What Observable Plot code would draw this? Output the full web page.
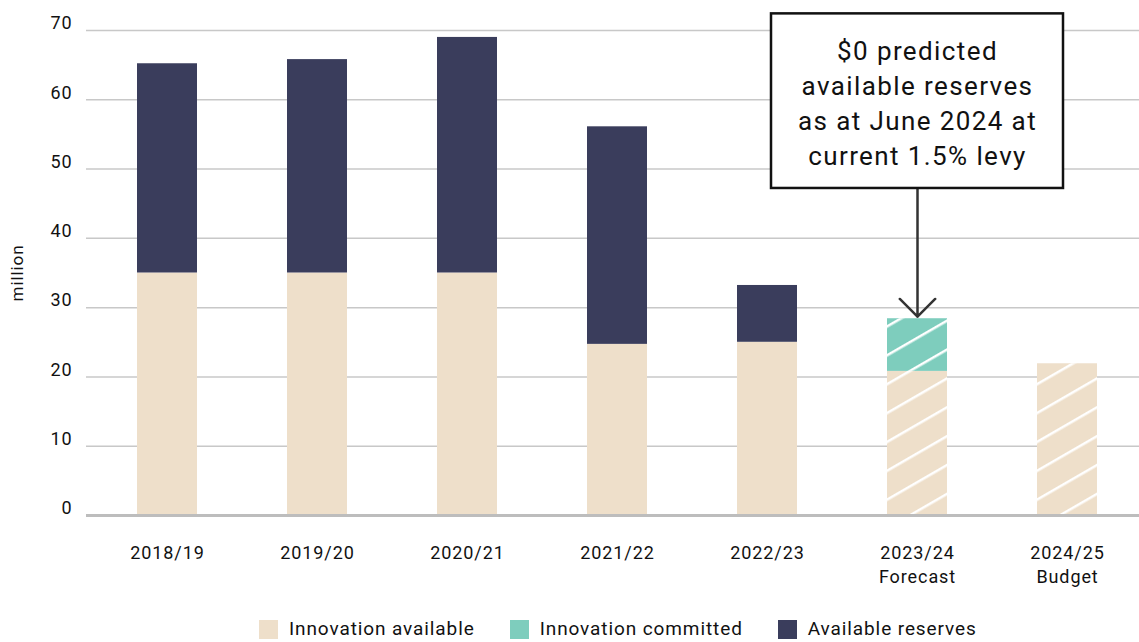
<!DOCTYPE html>
<html>
<head>
<meta charset="utf-8">
<script src="https://cdn.jsdelivr.net/npm/d3@7"></script>
<script src="https://cdn.jsdelivr.net/npm/@observablehq/plot@0.6"></script>
<style>
  html, body { margin: 0; padding: 0; background: #fff; }
  body { width: 1139px; height: 642px; overflow: hidden; font-family: Roboto, sans-serif; }
  #legend { display: flex; align-items: center; margin-top: 7px; padding-left: 259px; font-size: 19px; letter-spacing: 0.9px; color: #111; line-height: 20px; }
  #legend .item { display: flex; align-items: center; margin-right: 35px; }
  #legend .sw { width: 19px; height: 19px; margin-right: 11px; }
  svg text { letter-spacing: 0.9px; }
  svg g.annot text { letter-spacing: 1.4px; }
</style>
</head>
<body>
<div id="chart"></div>
<div id="legend"></div>
<script>
// ---- data ----
const years = ["2018/19", "2019/20", "2020/21", "2021/22", "2022/23", "2023/24", "2024/25"];
const yearSubLabels = ["", "", "", "", "", "Forecast", "Budget"];
const seriesNames = ["Innovation available", "Innovation committed", "Available reserves"];
const seriesColors = ["#EEDFCA", "#7ECDBD", "#3A3D5C"];
const innovationAvailable = [35.0, 35.0, 35.0, 24.7, 25.0, 20.8, 21.9];
const innovationCommitted = [0, 0, 0, 0, 0, 7.6, 0];
const availableReserves = [30.2, 30.8, 34.0, 31.4, 8.2, 0, 0];
const hatchedYears = ["2023/24", "2024/25"];
const yTicks = [0, 10, 20, 30, 40, 50, 60, 70];
const annotationYear = "2023/24";
const annotationText = "$0 predicted\navailable reserves\nas at June 2024 at\ncurrent 1.5% levy";
const annotationBoxBottom = 47.2;
const annotationBoxTop = 72.4;
const arrowTip = 28.7;

// ---- table ----
const seriesValues = [innovationAvailable, innovationCommitted, availableReserves];
const data = [];
years.forEach((year, i) => {
  seriesNames.forEach((s, j) => data.push({year, series: s, value: seriesValues[j][i]}));
});
const hatchedData = data.filter(d => hatchedYears.includes(d.year));
const labelOf = Object.fromEntries(years.map((y, i) => [y, yearSubLabels[i] ? y + "\n" + yearSubLabels[i] : y]));

const chart = Plot.plot({
  width: 1139,
  height: 612,
  marginTop: 30,
  marginBottom: 97,
  marginLeft: 86,
  marginRight: 0,
  style: {fontFamily: "Roboto, sans-serif", fontSize: "18px", color: "#111", background: "#fff"},
  x: {domain: years, range: [92, 1142], paddingInner: 0.6, paddingOuter: 0.3, axis: null},
  y: {domain: [0, 70], axis: null},
  color: {domain: seriesNames, range: seriesColors},
  marks: [
    Plot.ruleY(yTicks.filter(t => t > 0), {stroke: "#c8c8c8", strokeWidth: 1.5}),
    Plot.barY(data, {x: "year", y: "value", fill: "series"}),
    Plot.barY(hatchedData, {x: "year", y: "value", fill: "url(#hatch)"}),
    Plot.ruleY([0], {stroke: "#bdbdbd", strokeWidth: 3}),
    Plot.axisY({ticks: yTicks, tickSize: 0, tickPadding: 14, dy: -7, label: null, fontSize: 18}),
    Plot.axisX({tickSize: 0, tickPadding: 26, tickFormat: d => labelOf[d], label: null, fontSize: 18, lineHeight: 1.35}),
    Plot.text(["million"], {frameAnchor: "left", textAnchor: "middle", rotate: -90, dx: -69, fontSize: 17, fill: "#111"}),
    Plot.arrow([{x: annotationYear}], {x1: "x", x2: "x", y1: () => annotationBoxBottom, y2: () => arrowTip, stroke: "#333", strokeWidth: 2.5, headLength: 15, headAngle: 90}),
    Plot.barY([{x: annotationYear}], {x: "x", y1: () => annotationBoxBottom, y2: () => annotationBoxTop, fill: "#fff", stroke: "#111", strokeWidth: 2.5, insetLeft: -116, insetRight: -116}),
    Plot.text([{x: annotationYear, t: annotationText}], {x: "x", y: () => (annotationBoxBottom + annotationBoxTop) / 2, text: "t", fontSize: 26, lineHeight: 1.35, fill: "#111", className: "annot"})
  ]
});

chart.insertAdjacentHTML("afterbegin",
  '<defs><pattern id="hatch" patternUnits="userSpaceOnUse" width="25" height="25" patternTransform="rotate(-30)">' +
  '<rect x="0" y="0" width="25" height="2.5" fill="#fff"/></pattern></defs>');
document.getElementById("chart").append(chart);

// ---- legend ----
const legend = d3.select("#legend");
seriesNames.forEach((s, i) => {
  const item = legend.append("div").attr("class", "item");
  item.append("div").attr("class", "sw").style("background", seriesColors[i]);
  item.append("span").text(s);
});
</script>
</body>
</html>
